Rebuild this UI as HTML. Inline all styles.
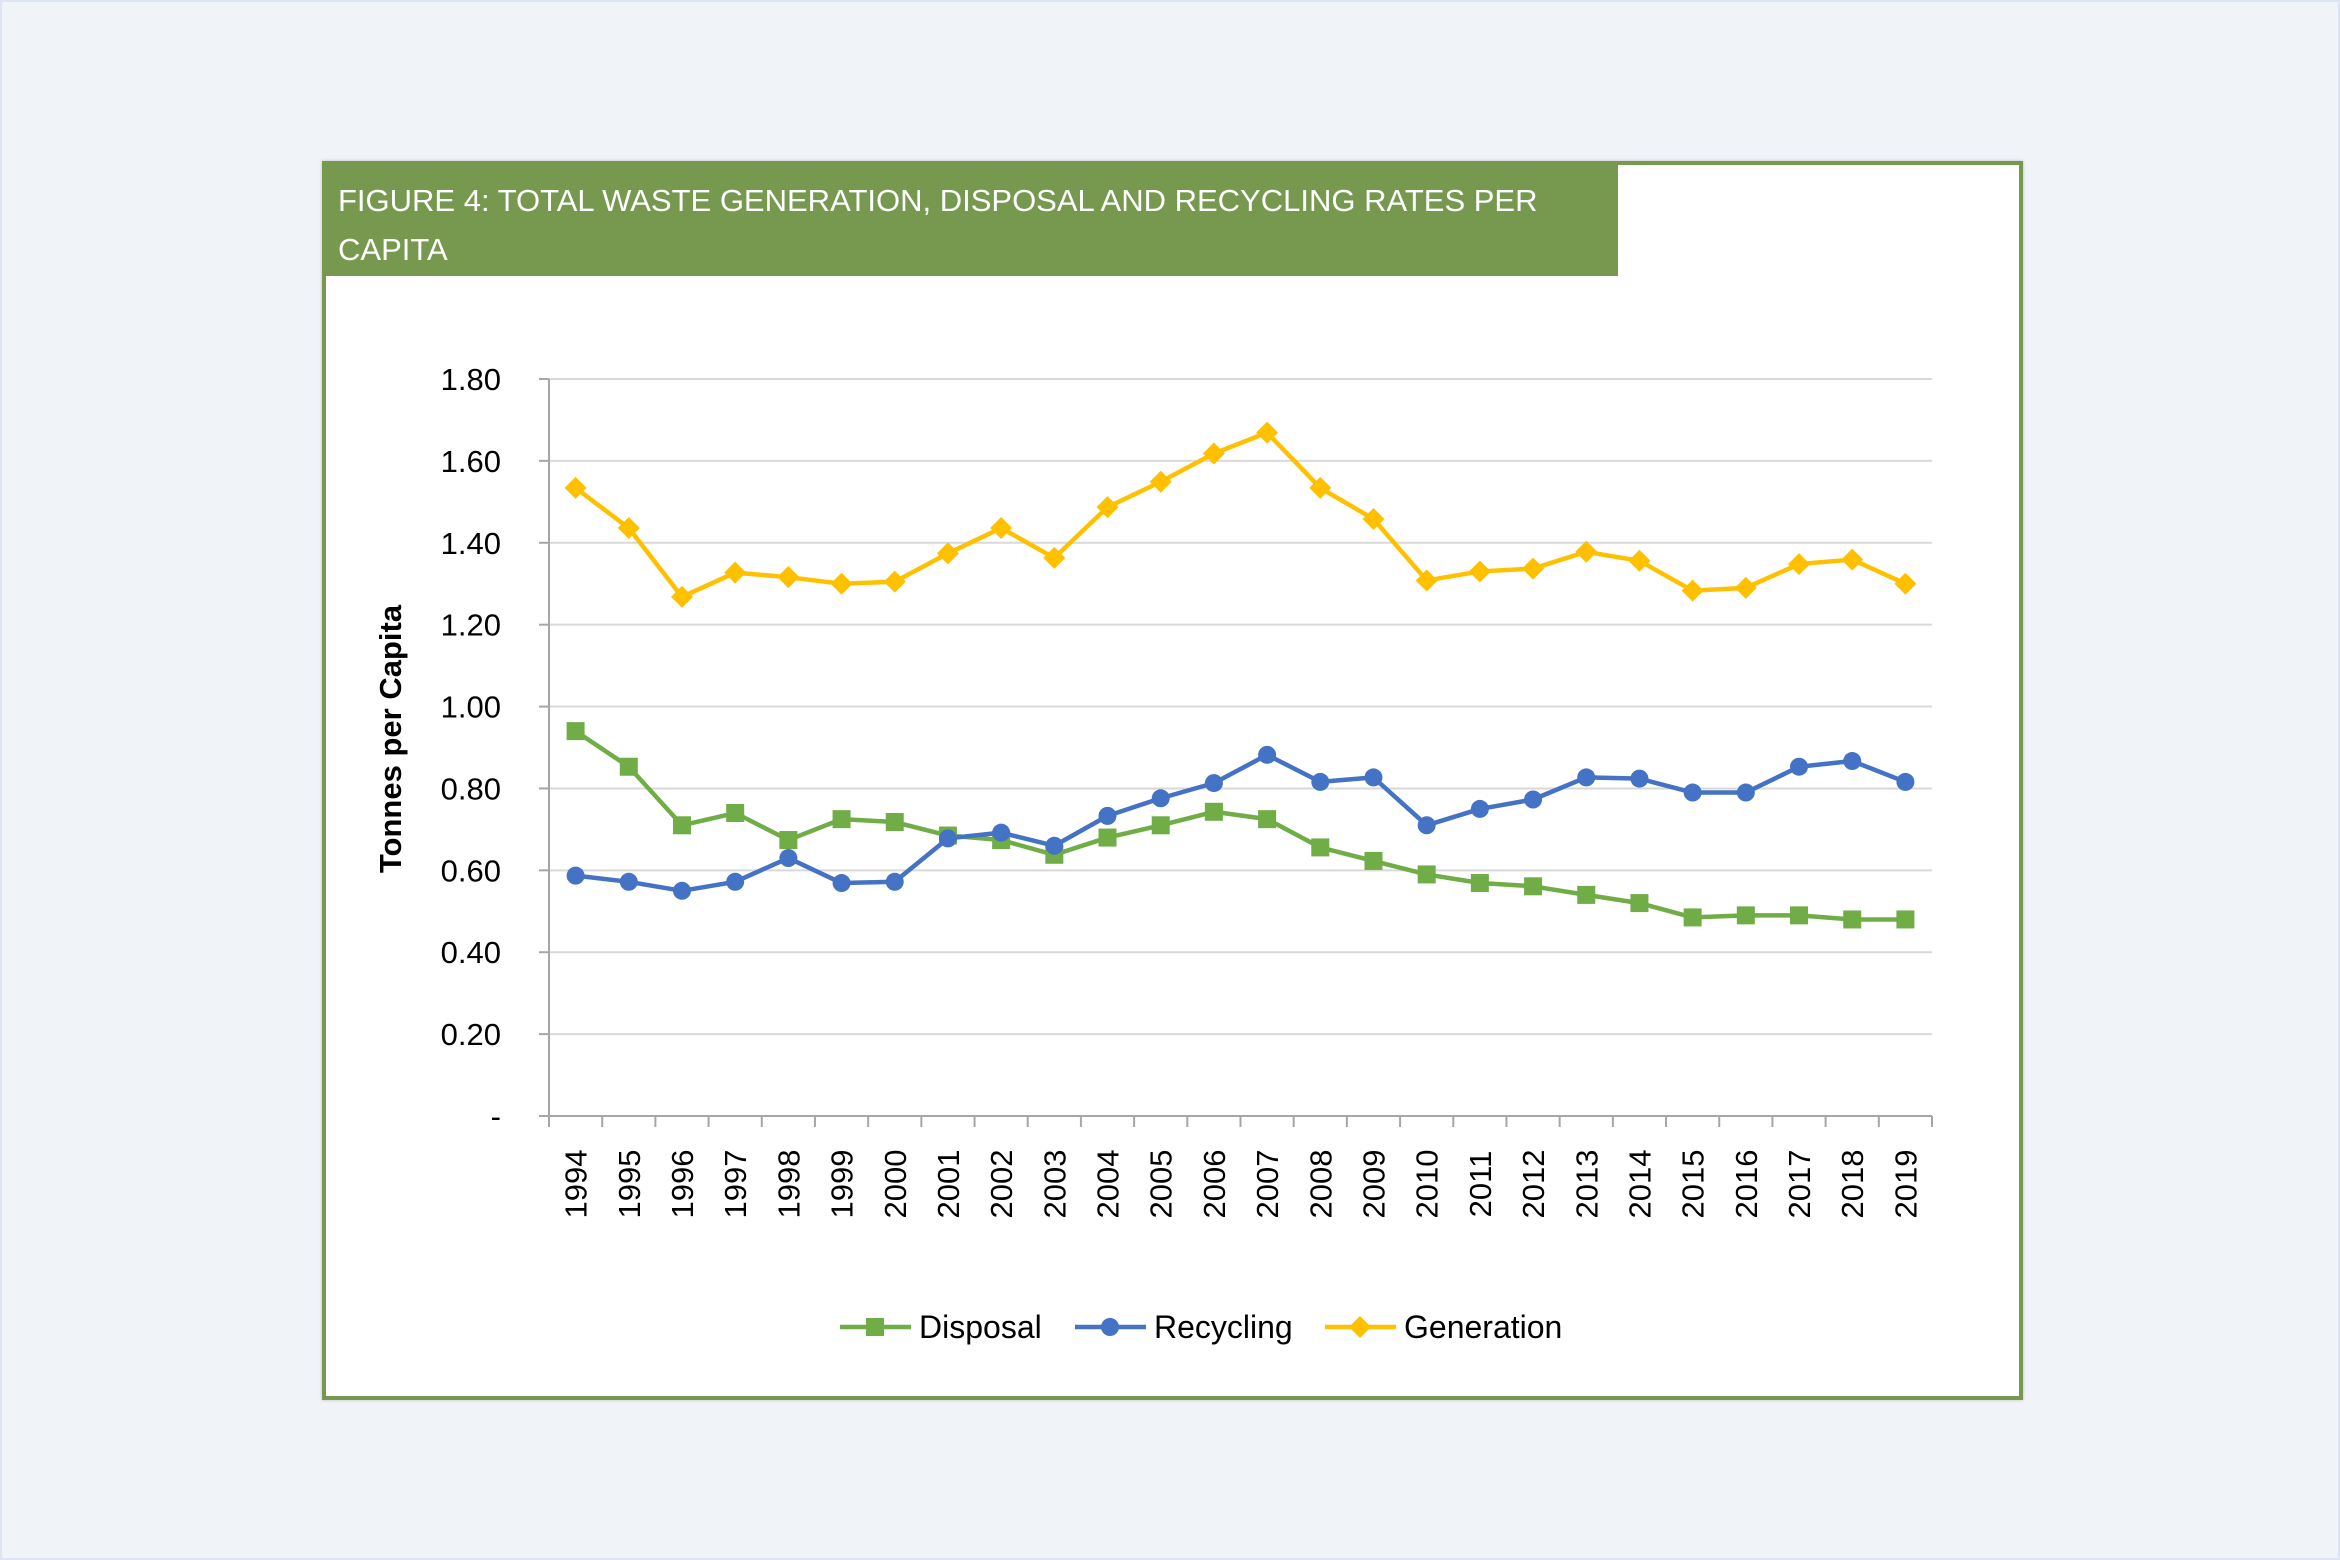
<!DOCTYPE html>
<html><head><meta charset="utf-8">
<style>
html,body{margin:0;padding:0;}
body{width:2340px;height:1560px;background:#f0f3f8;position:relative;overflow:hidden;font-family:"Liberation Sans",sans-serif;}
#outer{position:absolute;left:0;top:0;width:2336px;height:1556px;border:2px solid #dde5f2;}
#fig{position:absolute;left:322px;top:161px;width:1693px;height:1231px;background:#fff;border:4px solid #77994f;box-shadow:0 0 3px #bbb;}
#hdr{position:absolute;left:325px;top:165px;width:1293px;height:111px;background:#77994f;color:#fff;font-size:31px;line-height:49px;box-sizing:border-box;padding:11px 8px 11px 13px;white-space:nowrap;}
svg{position:absolute;left:0;top:0;}
</style></head><body>
<div id="outer"></div>
<div id="fig"></div>
<div id="hdr">FIGURE 4: TOTAL WASTE GENERATION, DISPOSAL AND RECYCLING RATES PER<br>CAPITA</div>
<svg id="chart" width="2340" height="1560"></svg>
<script>
const years=["1994","1995","1996","1997","1998","1999","2000","2001","2002","2003","2004","2005","2006","2007","2008","2009","2010","2011","2012","2013","2014","2015","2016","2017","2018","2019"];
const disposal=[0.94,0.853,0.71,0.74,0.674,0.725,0.718,0.685,0.674,0.638,0.68,0.71,0.743,0.725,0.656,0.623,0.59,0.569,0.561,0.54,0.52,0.485,0.49,0.49,0.48,0.48];
const recycling=[0.587,0.572,0.55,0.572,0.63,0.569,0.572,0.678,0.692,0.66,0.733,0.776,0.813,0.882,0.816,0.827,0.71,0.75,0.773,0.827,0.824,0.79,0.79,0.853,0.867,0.816];
const generation=[1.534,1.436,1.268,1.327,1.316,1.30,1.305,1.374,1.436,1.363,1.487,1.549,1.618,1.669,1.534,1.458,1.308,1.33,1.337,1.378,1.356,1.283,1.29,1.348,1.359,1.30];
const yTicks=[0,0.2,0.4,0.6,0.8,1.0,1.2,1.4,1.6,1.8];
const yTickLabels=["-","0.20","0.40","0.60","0.80","1.00","1.20","1.40","1.60","1.80"];

const NS="http://www.w3.org/2000/svg";
const svg=document.getElementById('chart');
const X0=549,X1=1932,Y0=1116,Y1=379,YMAX=1.8;
const bw=(X1-X0)/years.length;
const xs=i=>X0+bw*(i+0.5);
const ys=v=>Y0-(v/YMAX)*(Y0-Y1);
function mk(tag,attrs,parent){const e=document.createElementNS(NS,tag);for(const k in attrs)e.setAttribute(k,attrs[k]);(parent||svg).appendChild(e);return e;}

yTicks.forEach((t,i)=>{
  if(t>0){const g=mk('line',{x1:X0,x2:X1,y1:ys(t),y2:ys(t),stroke:'#d9d9d9','stroke-width':2});
  
  }
  const tk=mk('line',{x1:X0-10,x2:X0,y1:ys(t),y2:ys(t),stroke:'#a6a6a6','stroke-width':2});
  
  
  const tx=mk('text',{x:501,y:ys(t)+11,'text-anchor':'end','font-size':31,fill:'#000'});
  tx.textContent=yTickLabels[i];
  
  
});
const ya=mk('line',{x1:X0,x2:X0,y1:Y1,y2:Y0,stroke:'#a6a6a6','stroke-width':2});


const xa=mk('line',{x1:X0,x2:X1,y1:Y0,y2:Y0,stroke:'#a6a6a6','stroke-width':2});


for(let i=0;i<=years.length;i++){
  const t=mk('line',{x1:X0+bw*i,x2:X0+bw*i,y1:Y0,y2:Y0+11,stroke:'#a6a6a6','stroke-width':2});
  
  
}
years.forEach((y,i)=>{
  const cx=xs(i)+11,cy=1184;
  const t=mk('text',{x:cx,y:cy,'text-anchor':'middle','font-size':31,transform:`rotate(-90 ${cx} ${cy})`});
  t.textContent=y;
  
  
});
const yt=mk('text',{x:401,y:739,'text-anchor':'middle','font-size':31,'font-weight':'bold',transform:'rotate(-90 401 739)'});
yt.textContent='Tonnes per Capita';



function marker(shape,x,y,color,parent){
  if(shape==='square')return mk('rect',{x:x-9,y:y-9,width:18,height:18,fill:color},parent);
  if(shape==='circle')return mk('circle',{cx:x,cy:y,r:9,fill:color},parent);
  return mk('path',{d:`M${x} ${y-11}L${x+11} ${y}L${x} ${y+11}L${x-11} ${y}Z`,fill:color},parent);
}
function series(vals,color,shape,name){
  const g=mk('g',{});
  
  
  const p=mk('polyline',{points:vals.map((v,i)=>xs(i)+','+ys(v)).join(' '),fill:'none',stroke:color,'stroke-width':4.5,'stroke-linejoin':'round'},g);
  
  
  vals.forEach((v,i)=>{
    const m=marker(shape,xs(i),ys(v),color,g);
    
    
  });
}
series(disposal,'#70ad47','square','disposal');
series(recycling,'#4472c4','circle','recycling');
series(generation,'#ffc000','diamond','generation');

const legend=[["Disposal",'#70ad47','square',840],["Recycling",'#4472c4','circle',1075],["Generation",'#ffc000','diamond',1325]];
legend.forEach(([lab,c,s,x])=>{
  const g=mk('g',{});
  
  
  mk('line',{x1:x,x2:x+71,y1:1327,y2:1327,stroke:c,'stroke-width':4.5},g);
  marker(s,x+35,1327,c,g);
  const t=mk('text',{x:x+79,y:1338,'font-size':32,fill:'#000'},g);
  t.textContent=lab;
});
</script>
</body></html>
